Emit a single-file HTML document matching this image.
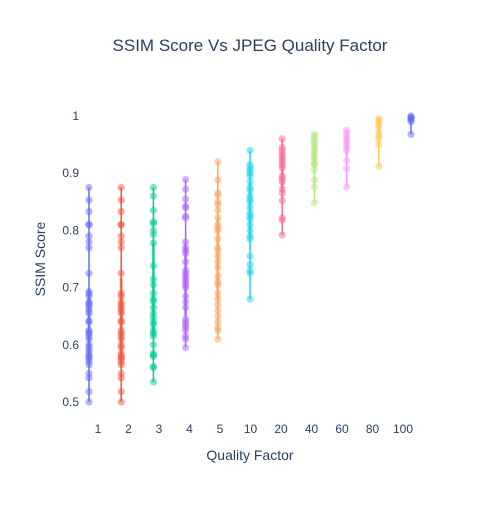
<!DOCTYPE html>
<html><head><meta charset="utf-8">
<style>
body{margin:0;background:#fff;}
svg{font-family:"Liberation Sans",sans-serif;}
</style></head>
<body>
<svg id="chart" width="500" height="500">
<rect width="500" height="500" fill="#fff"/>
<text x="250" y="51" text-anchor="middle" font-size="17" fill="#2a3f5f">SSIM Score Vs JPEG Quality Factor</text>
<text x="250" y="460" text-anchor="middle" font-size="14" fill="#2a3f5f">Quality Factor</text>
<text transform="translate(45,259) rotate(-90)" text-anchor="middle" font-size="14" fill="#2a3f5f">SSIM Score</text>
<g id="yticks"></g><g id="xticks"></g><g id="marks"></g>
</svg>
<script>
const categories=["1","2","3","4","5","10","20","40","60","80","100"];
const yTicks=[0.5,0.6,0.7,0.8,0.9,1];
const yTickLabels=["0.5","0.6","0.7","0.8","0.9","1"];
const colors=["#636efa","#EF553B","#00cc96","#ab63fa","#FFA15A","#19d3f3","#FF6692","#B6E880","#FF97FF","#FECB52","#636efa"];
const s1=[0.5,0.518,0.542,0.55,0.565,0.57,0.575,0.578,0.58,0.585,0.59,0.595,0.6,0.61,0.615,0.62,0.622,0.625,0.64,0.642,0.655,0.66,0.665,0.67,0.672,0.675,0.685,0.69,0.693,0.725,0.77,0.78,0.79,0.81,0.81,0.833,0.853,0.875];
const s2=[0.5,0.518,0.542,0.55,0.565,0.57,0.575,0.578,0.58,0.585,0.595,0.6,0.61,0.615,0.62,0.625,0.64,0.642,0.655,0.66,0.665,0.67,0.675,0.685,0.69,0.725,0.77,0.78,0.79,0.81,0.81,0.833,0.853,0.875];
const s3=[0.535,0.56,0.562,0.58,0.582,0.585,0.6,0.615,0.62,0.625,0.635,0.64,0.648,0.655,0.665,0.676,0.68,0.69,0.705,0.715,0.738,0.778,0.793,0.8,0.812,0.815,0.835,0.86,0.875];
const s4=[0.595,0.61,0.615,0.625,0.63,0.635,0.64,0.645,0.665,0.675,0.685,0.7,0.705,0.71,0.715,0.72,0.725,0.73,0.745,0.76,0.765,0.77,0.78,0.822,0.825,0.84,0.842,0.855,0.872,0.889];
const s5=[0.61,0.625,0.63,0.64,0.65,0.66,0.67,0.68,0.69,0.705,0.71,0.72,0.735,0.745,0.755,0.765,0.77,0.785,0.8,0.805,0.81,0.822,0.835,0.845,0.85,0.862,0.865,0.888,0.92];
const s6=[0.68,0.725,0.73,0.74,0.755,0.785,0.79,0.8,0.81,0.82,0.825,0.83,0.84,0.85,0.855,0.86,0.87,0.875,0.885,0.895,0.9,0.905,0.91,0.915,0.94];
const s7=[0.792,0.818,0.822,0.852,0.865,0.872,0.885,0.89,0.895,0.91,0.915,0.92,0.925,0.93,0.935,0.94,0.945,0.96];
const s8=[0.848,0.876,0.888,0.905,0.915,0.918,0.925,0.93,0.935,0.94,0.945,0.95,0.955,0.96,0.965,0.968];
const s9=[0.876,0.908,0.922,0.94,0.945,0.95,0.955,0.96,0.965,0.97,0.975];
const s10=[0.912,0.95,0.96,0.965,0.97,0.98,0.985,0.99,0.993,0.995];
const s11=[0.968,0.99,0.993,0.995,0.997,0.998,1.0];
const series=[s1,s2,s3,s4,s5,s6,s7,s8,s9,s10,s11];
const NS="http://www.w3.org/2000/svg";
const yScale=v=>402-(v-0.5)*572;
const markX=i=>89+i*32.2;
const labelX=i=>98+i*30.5;
function el(tag,attrs,parent){const e=document.createElementNS(NS,tag);for(const k in attrs)e.setAttribute(k,attrs[k]);parent.appendChild(e);return e;}
const yt=document.getElementById('yticks');
yTicks.forEach((v,i)=>{const t=el('text',{x:79,y:yScale(v)+4,'text-anchor':'end','font-size':12,fill:'#2a3f5f'},yt);t.textContent=yTickLabels[i];

});
const xt=document.getElementById('xticks');
categories.forEach((c,i)=>{const t=el('text',{x:labelX(i),y:433,'text-anchor':'middle','font-size':12,fill:'#2a3f5f'},xt);t.textContent=c;

});
function q(a,p){const s=[...a].sort((x,y)=>x-y);const idx=(s.length-1)*p;const lo=Math.floor(idx),hi=Math.ceil(idx);return s[lo]+(s[hi]-s[lo])*(idx-lo);}
const mk=document.getElementById('marks');
series.forEach((d,i)=>{
 const g=el('g',{},mk);
 
 
 const x=markX(i);
 const mn=Math.min(...d),mx=Math.max(...d);
 const wl=el('line',{x1:x,x2:x,y1:yScale(mn),y2:yScale(mx),stroke:colors[i],'stroke-width':1.5},g);
 
 
 const bx=el('rect',{x:x-1.5,width:3,y:yScale(q(d,0.75)),height:yScale(q(d,0.25))-yScale(q(d,0.75)),fill:colors[i],opacity:0.6},g);
 
 
 d.forEach(v=>{const c=el('circle',{cx:x,cy:yScale(v),r:3.6,fill:colors[i],'fill-opacity':0.5},g);
 
 });
});
</script>
</body></html>
